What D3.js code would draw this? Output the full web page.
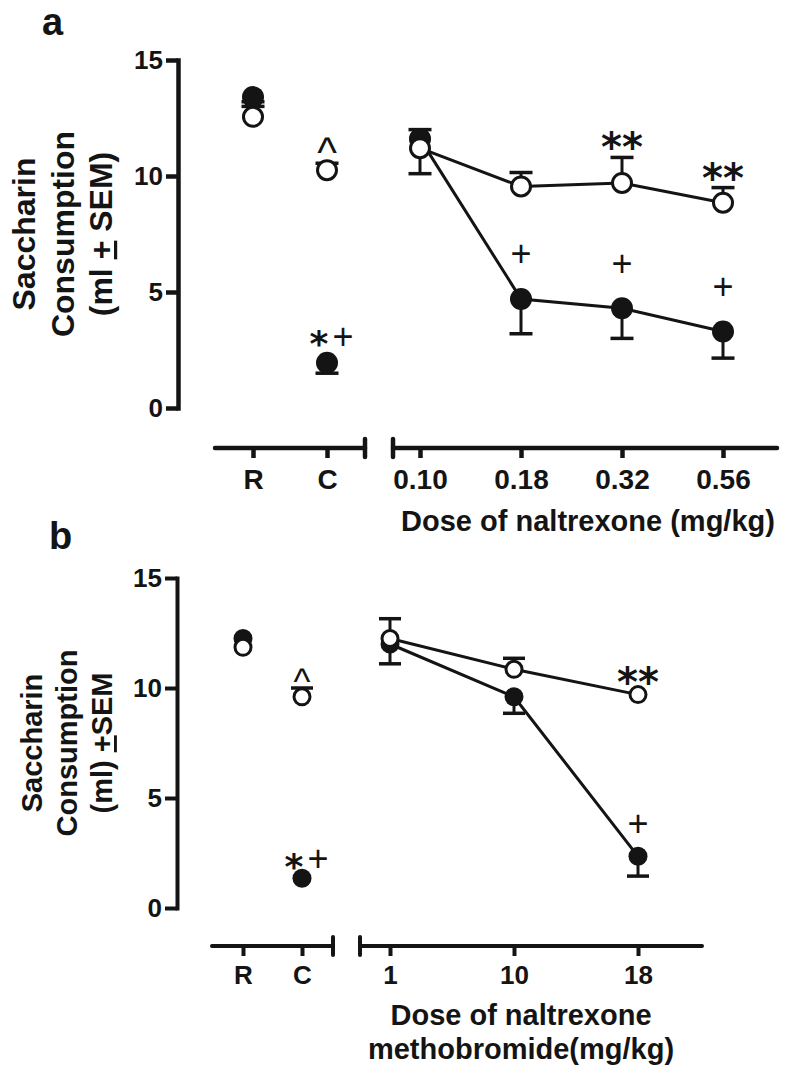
<!DOCTYPE html>
<html>
<head>
<meta charset="utf-8">
<script src="https://cdn.jsdelivr.net/npm/d3@7"></script>
<style>
  body { margin: 0; background: #fff; }
  text { font-family: "Liberation Sans", Arial, sans-serif; fill: #141414; }
</style>
</head>
<body>
<svg id="fig" width="792" height="1080"></svg>
<script>
// categories / ticks
let base_cats = ["R", "C"]
let doses_a = ["0.10", "0.18", "0.32", "0.56"]
let doses_b = ["1", "10", "18"]
let y_ticks = [0, 5, 10, 15]

// panel a: saccharin consumption (ml), SEM sign = side of the point the bar is drawn on
let a_base_filled = [13.4, 1.95]
let a_base_filled_err = [-0.2, -0.45]
let a_base_open = [12.55, 10.25]
let a_base_open_err = [0.45, 0.3]
let a_dose_filled = [11.6, 4.7, 4.3, 3.3]
let a_dose_filled_err = [0.4, -1.5, -1.3, -1.15]
let a_dose_open = [11.2, 9.55, 9.7, 8.85]
let a_dose_open_err = [-1.1, 0.6, 1.1, 0.65]
let a_base_filled_mark = ["", "*+"]
let a_base_open_mark = ["", "^"]
let a_dose_filled_mark = ["", "+", "+", "+"]
let a_dose_open_mark = ["", "", "**", "**"]

// panel b
let b_base_filled = [12.25, 1.35]
let b_base_filled_err = [0, 0]
let b_base_open = [11.85, 9.6]
let b_base_open_err = [0, 0.4]
let b_dose_filled = [12.0, 9.6, 2.35]
let b_dose_filled_err = [-0.9, -0.75, -0.9]
let b_dose_open = [12.25, 10.85, 9.7]
let b_dose_open_err = [0.9, 0.5, 0]
let b_base_filled_mark = ["", "*+"]
let b_base_open_mark = ["", "^"]
let b_dose_filled_mark = ["", "", "+"]
let b_dose_open_mark = ["", "", "**"]

let ink = "#141414"
let svg = d3.select("#fig")

function draw_panel(p) {
  let g = svg.append("g")

  let y = d3.scaleLinear().domain([0, 15]).range([p.y_bottom, p.y_top])
  let x_base = d3.scalePoint().domain(base_cats).range(p.base_range)
  let x_dose = d3.scalePoint().domain(p.doses).range(p.dose_range)

  // panel letter
  g.append("text")
      .attr("x", p.letter[0]).attr("y", p.letter[1])
      .style("font-size", "38px").style("font-weight", "bold")
      .text(p.name)

  // y axis
  let ya = g.append("g")
      .attr("transform", "translate(" + p.axis_x + ",0)")
      .call(d3.axisLeft(y).tickValues(y_ticks).tickSize(12).tickPadding(3).tickSizeOuter(0))
  ya.selectAll("path, line").style("stroke", ink).style("stroke-width", p.axis_w)
  ya.select(".domain").style("stroke-linecap", "square")
  ya.selectAll("text")
      .style("font-size", "26px").style("font-weight", "bold")
      .style("font-family", "Liberation Sans, Arial, sans-serif").style("fill", ink)

  // y label
  let yl = g.append("text")
      .attr("transform", "translate(0," + (p.y_top + p.y_bottom) / 2 + ") rotate(-90)")
      .attr("text-anchor", "middle")
      .style("font-size", p.ylab_fs + "px").style("font-weight", "bold")
  p.ylab.forEach(function(line, i) {
    let t = yl.append("tspan").attr("x", 0).attr("y", p.ylab_y[i])
    line.forEach(function(part) {
      t.append("tspan")
          .style("text-decoration", part.u ? "underline" : null)
          .text(part.s)
    })
  })

  // x axes (broken)
  function x_axis(scale, line, cap_x) {
    let xa = g.append("g")
        .attr("transform", "translate(0," + p.axis_y + ")")
        .call(d3.axisBottom(scale).tickSize(10).tickPadding(p.tick_pad).tickSizeOuter(0))
    xa.select(".domain").attr("d", "M" + line[0] + ",0H" + line[1])
        .style("stroke-linecap", "round")
    xa.selectAll("path, line").style("stroke", ink).style("stroke-width", p.axis_w)
    xa.selectAll("text")
        .style("font-size", p.tick_fs + "px").style("font-weight", "bold")
        .style("font-family", "Liberation Sans, Arial, sans-serif").style("fill", ink)
    xa.append("line")
        .attr("x1", cap_x).attr("x2", cap_x).attr("y1", -9).attr("y2", 9)
        .style("stroke", ink).style("stroke-width", p.axis_w).style("stroke-linecap", "round")
  }
  x_axis(x_base, p.base_line, p.base_line[1])
  x_axis(x_dose, p.dose_line, p.dose_line[0])

  // axis title
  let xt = g.append("text")
      .attr("text-anchor", "middle")
      .style("font-size", "29px").style("font-weight", "bold")
  p.xlab.forEach(function(line, i) {
    xt.append("tspan").attr("x", p.xlab_x).attr("y", p.xlab_y[i]).text(line)
  })

  function rows(scale, cats, vals, errs, marks) {
    return cats.map(function(c, i) {
      return { x: scale(c), v: vals[i], e: errs[i], m: marks[i] }
    })
  }
  let filled = rows(x_base, base_cats, p.base_filled, p.base_filled_err, p.base_filled_mark)
      .concat(rows(x_dose, p.doses, p.dose_filled, p.dose_filled_err, p.dose_filled_mark))
  let open = rows(x_base, base_cats, p.base_open, p.base_open_err, p.base_open_mark)
      .concat(rows(x_dose, p.doses, p.dose_open, p.dose_open_err, p.dose_open_mark))

  // connecting lines, dose points only
  let line = d3.line().x(function(d) { return d.x }).y(function(d) { return y(d.v) })
  ;[filled.slice(2), open.slice(2)].forEach(function(s) {
    g.append("path").attr("d", line(s))
        .style("fill", "none").style("stroke", ink).style("stroke-width", 3)
  })

  // error bars
  let bars = filled.concat(open).filter(function(d) { return d.e !== 0 })
  g.selectAll(".err").data(bars).enter().append("line")
      .attr("x1", function(d) { return d.x }).attr("x2", function(d) { return d.x })
      .attr("y1", function(d) { return y(d.v) }).attr("y2", function(d) { return y(d.v + d.e) })
      .style("stroke", ink).style("stroke-width", 3)
  g.selectAll(".cap").data(bars).enter().append("line")
      .attr("x1", function(d) { return d.x - p.cap }).attr("x2", function(d) { return d.x + p.cap })
      .attr("y1", function(d) { return y(d.v + d.e) }).attr("y2", function(d) { return y(d.v + d.e) })
      .style("stroke", ink).style("stroke-width", 3.5)

  // markers
  g.selectAll(".filled").data(filled).enter().append("circle")
      .attr("cx", function(d) { return d.x }).attr("cy", function(d) { return y(d.v) })
      .attr("r", p.r_filled).style("fill", ink)
  g.selectAll(".open").data(open).enter().append("circle")
      .attr("cx", function(d) { return d.x }).attr("cy", function(d) { return y(d.v) })
      .attr("r", p.r_open).style("fill", "#fff").style("stroke", ink).style("stroke-width", 3)

  // significance marks
  function top_of(d, r) {
    return d.e > 0 ? y(d.v + d.e) - 2 : y(d.v) - r
  }
  function star(x, cy, s, fs) {
    g.append("text").attr("x", x).attr("y", cy).attr("dy", "0.2em")
        .attr("text-anchor", "middle").attr("dominant-baseline", "central")
        .style("font-family", "DejaVu Sans, sans-serif").style("font-weight", "bold")
        .style("font-size", fs + "px").text(s)
  }
  function plus(x, cy) {
    g.append("text").attr("x", x).attr("y", cy)
        .attr("text-anchor", "middle").attr("dominant-baseline", "central")
        .style("font-size", "36px").text("+")
  }
  function mark(d, r) {
    if (!d.m) return
    let t = top_of(d, r)
    if (d.m === "+") plus(d.x, t - p.gap["+"])
    if (d.m === "**") star(d.x, t - p.gap["**"], "**", 40)
    if (d.m === "^") {
      g.append("text").attr("x", d.x).attr("y", t - p.gap["^"]).attr("dy", "0.17em")
          .attr("text-anchor", "middle").attr("dominant-baseline", "central")
          .style("font-size", p.caret_fs + "px").text("^")
    }
    if (d.m === "*+") {
      star(d.x - 8, t - p.gap["*+"], "*", 36)
      plus(d.x + 16, t - p.gap["*+"])
    }
  }
  filled.forEach(function(d) { mark(d, p.r_filled) })
  open.forEach(function(d) { mark(d, p.r_open + 1.5) })
}

draw_panel({
  name: "a", letter: [42, 35],
  doses: doses_a,
  y_top: 60, y_bottom: 408, axis_x: 178, axis_y: 448, axis_w: 4.5,
  base_range: [253, 327], base_line: [215, 365],
  dose_range: [420, 723], dose_line: [393, 777],
  tick_fs: 28, tick_pad: 11,
  ylab: [[{ s: "Saccharin" }], [{ s: "Consumption" }],
         [{ s: "(ml " }, { s: "+", u: true }, { s: " SEM)" }]],
  ylab_fs: 32, ylab_y: [35, 74, 112],
  xlab: ["Dose of naltrexone (mg/kg)"], xlab_x: 588, xlab_y: [531],
  r_filled: 11, r_open: 9.5, cap: 11.5, caret_fs: 42,
  gap: { "+": 34, "**": 16, "^": 16, "*+": 15 },
  base_filled: a_base_filled, base_filled_err: a_base_filled_err, base_filled_mark: a_base_filled_mark,
  base_open: a_base_open, base_open_err: a_base_open_err, base_open_mark: a_base_open_mark,
  dose_filled: a_dose_filled, dose_filled_err: a_dose_filled_err, dose_filled_mark: a_dose_filled_mark,
  dose_open: a_dose_open, dose_open_err: a_dose_open_err, dose_open_mark: a_dose_open_mark
})

draw_panel({
  name: "b", letter: [49, 549],
  doses: doses_b,
  y_top: 578, y_bottom: 908, axis_x: 177, axis_y: 946, axis_w: 4,
  base_range: [243, 302], base_line: [212, 333],
  dose_range: [390, 638], dose_line: [360, 702],
  tick_fs: 26, tick_pad: 10,
  ylab: [[{ s: "Saccharin" }], [{ s: "Consumption" }],
         [{ s: "(ml) " }, { s: "+", u: true }, { s: "SEM" }]],
  ylab_fs: 29, ylab_y: [42, 77, 112],
  xlab: ["Dose of naltrexone", "methobromide(mg/kg)"], xlab_x: 521, xlab_y: [1025, 1059],
  r_filled: 9.5, r_open: 8, cap: 11, caret_fs: 36,
  gap: { "+": 23, "**": 11, "^": 11, "*+": 10 },
  base_filled: b_base_filled, base_filled_err: b_base_filled_err, base_filled_mark: b_base_filled_mark,
  base_open: b_base_open, base_open_err: b_base_open_err, base_open_mark: b_base_open_mark,
  dose_filled: b_dose_filled, dose_filled_err: b_dose_filled_err, dose_filled_mark: b_dose_filled_mark,
  dose_open: b_dose_open, dose_open_err: b_dose_open_err, dose_open_mark: b_dose_open_mark
})
</script>
</body>
</html>
